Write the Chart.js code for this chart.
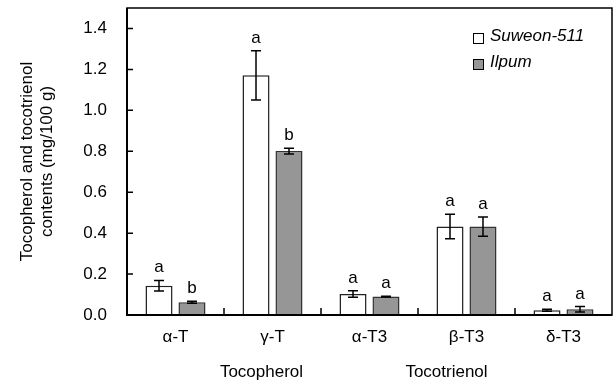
<!DOCTYPE html>
<html>
<head>
<meta charset="utf-8">
<script src="https://cdn.jsdelivr.net/npm/chart.js@4.4.1/dist/chart.umd.min.js"></script>
<style>
  body { margin: 0; background: #fff; }
</style>
</head>
<body>
<canvas id="myChart" width="616" height="385"></canvas>
<script>
// dados
var categorias = ['α-T', 'γ-T', 'α-T3', 'β-T3', 'δ-T3'];
var suweon = [0.143, 1.171, 0.103, 0.432, 0.023];
var suweonErro = [0.026, 0.12, 0.016, 0.06, 0.005];
var ilpum = [0.062, 0.801, 0.090, 0.432, 0.028];
var ilpumErro = [0.005, 0.014, 0.002, 0.047, 0.013];
var letrasSuweon = ['a', 'a', 'a', 'a', 'a'];
var letrasIlpum = ['b', 'b', 'a', 'a', 'a'];
var ticksY = [0, 0.2, 0.4, 0.6, 0.8, 1.0, 1.2, 1.4];
var grupos = ['Tocopherol', 'Tocotrienol'];
var nomesSeries = ['Suweon-511', 'Ilpum'];

var fonte = '"Liberation Sans", Arial, sans-serif';
var corCinza = '#969696';

var extras = {
    id: 'extras',
    afterDatasetsDraw: function (chart) {
        var ctx = chart.ctx;
        var area = chart.chartArea;
        var y = chart.scales.y;
        var x = chart.scales.x;
        var erros = [suweonErro, ilpumErro];
        var letras = [letrasSuweon, letrasIlpum];
        var valores = [suweon, ilpum];

        ctx.save();
        // barras de erro e letras
        for (var d = 0; d < 2; d++) {
            var meta = chart.getDatasetMeta(d);
            for (var i = 0; i < meta.data.length; i++) {
                var bx = meta.data[i].x;
                var topo = y.getPixelForValue(valores[d][i] + erros[d][i]);
                var baixo = y.getPixelForValue(valores[d][i] - erros[d][i]);
                ctx.strokeStyle = '#000';
                ctx.lineWidth = 1.5;
                ctx.beginPath();
                ctx.moveTo(bx, topo); ctx.lineTo(bx, baixo);
                ctx.moveTo(bx - 5, topo); ctx.lineTo(bx + 5, topo);
                ctx.moveTo(bx - 5, baixo); ctx.lineTo(bx + 5, baixo);
                ctx.stroke();

                ctx.fillStyle = '#000';
                ctx.font = '17px ' + fonte;
                ctx.textAlign = 'center';
                ctx.textBaseline = 'alphabetic';
                ctx.fillText(letras[d][i], bx, topo - 8);
            }
        }

        // moldura
        ctx.strokeStyle = '#000';
        ctx.lineWidth = 1.5;
        ctx.strokeRect(area.left, area.top, area.right - area.left, area.bottom - area.top);
        ctx.lineWidth = 2;
        ctx.beginPath();
        ctx.moveTo(area.left, area.top); ctx.lineTo(area.left, area.bottom); ctx.lineTo(area.right, area.bottom);
        ctx.stroke();

        // ticks internos
        ctx.lineWidth = 1.5;
        ctx.beginPath();
        for (var t = 1; t < ticksY.length; t++) {
            var ty = y.getPixelForValue(ticksY[t]);
            ctx.moveTo(area.left, ty); ctx.lineTo(area.left + 6, ty);
        }
        for (var c = 1; c < categorias.length; c++) {
            var tx = (x.getPixelForValue(c - 1) + x.getPixelForValue(c)) / 2;
            ctx.moveTo(tx, area.bottom); ctx.lineTo(tx, area.bottom - 7);
        }
        ctx.stroke();

        // legenda
        var lx = area.right - 139;
        var ly = area.top + 25;
        var cores = ['#ffffff', corCinza];
        ctx.font = 'italic 17px ' + fonte;
        ctx.textAlign = 'left';
        ctx.textBaseline = 'middle';
        for (var k = 0; k < 2; k++) {
            ctx.fillStyle = cores[k];
            ctx.fillRect(lx, ly + k * 26, 11, 11);
            ctx.strokeStyle = '#000';
            ctx.lineWidth = 1;
            ctx.strokeRect(lx + 0.5, ly + k * 26 + 0.5, 10, 10);
            ctx.fillStyle = '#000';
            ctx.fillText(nomesSeries[k], lx + 17, ly + k * 26 + 3);
        }

        // titulo do eixo y
        ctx.save();
        ctx.translate(27, (area.top + area.bottom) / 2);
        ctx.rotate(-Math.PI / 2);
        ctx.font = '17px ' + fonte;
        ctx.textAlign = 'center';
        ctx.textBaseline = 'middle';
        ctx.fillText('Tocopherol and tocotrienol', 0, 0);
        ctx.fillText('contents (mg/100 g)', 0, 20);
        ctx.restore();

        // grupos
        ctx.font = '17px ' + fonte;
        ctx.textAlign = 'center';
        ctx.textBaseline = 'middle';
        ctx.fillText(grupos[0], x.getPixelForValue(1) - 11, 372);
        ctx.fillText(grupos[1], x.getPixelForValue(3) - 20, 372);
        ctx.restore();
    }
};

const ctx = document.getElementById('myChart');
var grafico = new Chart(ctx, {
    type: 'bar',
    data: {
        labels: categorias,
        datasets: [{
            label: nomesSeries[0],
            data: suweon,
            backgroundColor: '#ffffff',
            borderColor: '#222',
            borderWidth: 1.5
        }, {
            label: nomesSeries[1],
            data: ilpum,
            backgroundColor: corCinza,
            borderColor: '#333',
            borderWidth: 1.5
        }]
    },
    options: {
        responsive: false,
        animation: false,
        layout: { padding: { left: 0, right: 4, top: 8, bottom: 0 } },
        categoryPercentage: 0.68,
        barPercentage: 0.82,
        plugins: {
            legend: { display: false },
            tooltip: { enabled: false }
        },
        scales: {
            x: {
                grid: { display: false, drawTicks: false },
                border: { display: false },
                ticks: { color: '#000', font: { family: fonte, size: 17 }, padding: 12 },
                afterFit: function (s) { s.height = 70; }
            },
            y: {
                min: 0,
                max: 1.5,
                grid: { display: false, drawTicks: false },
                border: { display: false },
                afterBuildTicks: function (s) {
                    s.ticks = ticksY.map(function (v) { return { value: v }; });
                },
                ticks: {
                    color: '#000',
                    font: { family: fonte, size: 17 },
                    padding: 20,
                    callback: function (v) { return Number(v).toFixed(1); }
                },
                afterFit: function (s) {
                    s.width = 127;
                    s.paddingTop = 0;
                    s.paddingBottom = 0;
                }
            }
        }
    },
    plugins: [extras]
});
</script>
</body>
</html>
